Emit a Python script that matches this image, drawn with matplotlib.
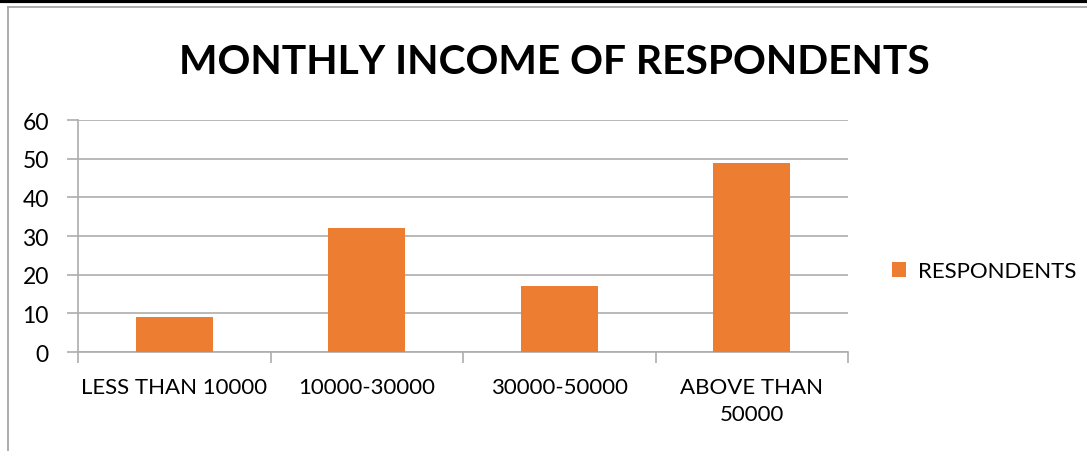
import matplotlib
matplotlib.use("Agg")
import matplotlib.pyplot as plt
from matplotlib.lines import Line2D
from matplotlib.patches import Patch

plt.rcParams["font.family"] = ["Lato", "DejaVu Sans"]

categories = ["LESS THAN 10000", "10000-30000", "30000-50000", "ABOVE THAN\n50000"]
respondents = [9, 32, 17, 49]
yticks = [0, 10, 20, 30, 40, 50, 60]

W, H = 1087, 452
fig = plt.figure(figsize=(W / 100, H / 100), dpi=100)
ax = fig.add_axes([78 / W, 1 - 353 / H, (848 - 78) / W, (353 - 121) / H])

bar_color = "#ED7D31"
grid_color = "#ADADAD"

x = range(len(categories))
ax.bar(x, respondents, width=0.4, color=bar_color, zorder=3)

ax.set_xlim(-0.5, len(categories) - 0.5)
ax.set_ylim(0, 60)
ax.set_yticks(yticks)
ax.set_yticklabels([str(t) for t in yticks], fontsize=16.5)

# category labels centred, tick marks on the category boundaries
ax.set_xticks(list(x))
ax.set_xticklabels(categories, fontsize=16, linespacing=1.45)
ax.tick_params(axis="x", length=0, pad=18)
ax.set_xticks([i - 0.5 for i in range(len(categories) + 1)], minor=True)
ax.tick_params(axis="x", which="minor", length=8, color=grid_color, width=1.2)
ax.tick_params(axis="y", length=8, color=grid_color, width=1.2, pad=13)

ax.yaxis.grid(True, color=grid_color, linewidth=1.2, zorder=0)
for side in ["top", "right"]:
    ax.spines[side].set_visible(False)
ax.spines["left"].set_color(grid_color)
ax.spines["bottom"].set_color(grid_color)
ax.spines["left"].set_linewidth(1.2)
ax.spines["bottom"].set_linewidth(1.2)

fig.text(554 / W, 1 - 62 / H, "MONTHLY INCOME OF RESPONDENTS", ha="center", va="center",
         fontsize=29.3, fontweight="bold")

handles = [Patch(facecolor=bar_color, label="RESPONDENTS")]
fig.legend(handles=handles, loc="center left", bbox_to_anchor=(872 / W, 1 - 272 / H),
           frameon=False, fontsize=16, handlelength=0.65, handleheight=0.65,
           handletextpad=0.5)

# chart frame edges
fig.add_artist(Line2D([0, 1], [1 - 1.5 / H, 1 - 1.5 / H], color="black", linewidth=3))
fig.add_artist(Line2D([8 / W, 1], [1 - 8 / H, 1 - 8 / H], color="#A0A0A0", linewidth=1.2))
fig.add_artist(Line2D([8 / W, 8 / W], [0, 1 - 8 / H], color="#A0A0A0", linewidth=1.2))

fig.savefig("out.png", dpi=100)
